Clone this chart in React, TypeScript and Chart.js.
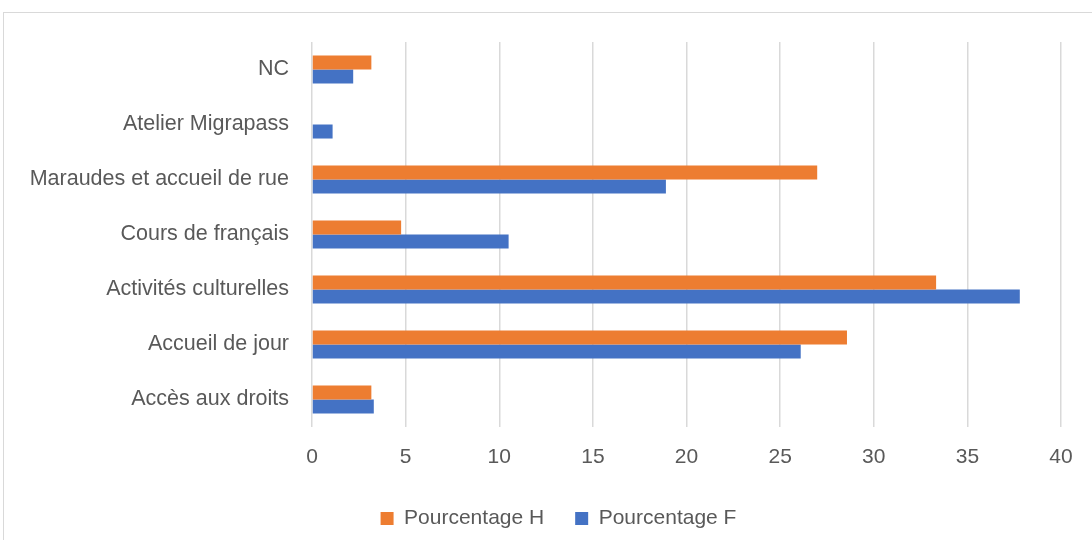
import { useEffect, useRef } from 'react';
import { Chart, registerables } from 'chart.js';

Chart.register(...registerables);

const categories = [
  'NC',
  'Atelier Migrapass',
  'Maraudes et accueil de rue',
  'Cours de français',
  'Activités culturelles',
  'Accueil de jour',
  'Accès aux droits',
];
const valuesH = [3.17, 0, 26.98, 4.76, 33.33, 28.57, 3.17];
const valuesF = [2.2, 1.1, 18.9, 10.5, 37.8, 26.1, 3.3];
const seriesNames = ['Pourcentage H', 'Pourcentage F'];
const seriesColors = ['#ED7D31', '#4472C4'];
const xMin = 0;
const xMax = 40;
const xStep = 5;

const FONT = "'Liberation Sans', Arial, sans-serif";
const TEXT = '#595959';
const GRID = '#d9d9d9';

const legendShift = {
  id: 'legendShift',
  afterLayout(chart: any) {
    if (chart.legend) {
      chart.legend.left += 28;
      chart.legend.right += 28;
    }
  },
};

export default function App() {
  const ref = useRef<HTMLCanvasElement>(null);
  useEffect(() => {
    document.body.style.margin = '0';
    const chart = new Chart(ref.current!, {
      type: 'bar',
      data: {
        labels: categories,
        datasets: [
          {
            label: seriesNames[0],
            data: valuesH,
            backgroundColor: seriesColors[0],
            categoryPercentage: 0.51,
            barPercentage: 1,
          },
          {
            label: seriesNames[1],
            data: valuesF,
            backgroundColor: seriesColors[1],
            categoryPercentage: 0.51,
            barPercentage: 1,
          },
        ],
      },
      plugins: [legendShift],
      options: {
        indexAxis: 'y',
        responsive: false,
        animation: false,
        layout: { padding: { top: 42, left: 0, right: 31, bottom: 1 } },
        plugins: {
          tooltip: { enabled: false },
          legend: {
            position: 'bottom',
            labels: {
              boxWidth: 13,
              boxHeight: 13,
              padding: 31,
              color: TEXT,
              font: { family: FONT, size: 21 },
            },
          },
        },
        scales: {
          x: {
            min: xMin,
            max: xMax,
            ticks: {
              stepSize: xStep,
              color: TEXT,
              font: { family: FONT, size: 21 },
              padding: 18,
            },
            grid: { color: GRID, lineWidth: 1.5, drawTicks: false },
            border: { display: false },
            afterFit: (s: any) => {
              s.height = 50;
            },
          },
          y: {
            ticks: {
              color: TEXT,
              font: { family: FONT, size: 21.5 },
              padding: 23,
            },
            grid: { display: false, drawTicks: false },
            border: { display: false },
            afterFit: (s: any) => {
              s.width = 312;
            },
          },
        },
      },
    });
    return () => chart.destroy();
  }, []);
  return (
    <div style={{ position: 'relative', width: 1092, height: 540, overflow: 'hidden', background: '#fff' }}>
      <div
        style={{
          position: 'absolute',
          left: 3,
          top: 12,
          width: 1200,
          height: 600,
          border: '1px solid #d9d9d9',
        }}
      />
      <canvas ref={ref} width={1092} height={540} style={{ position: 'absolute', left: 0, top: 0 }} />
    </div>
  );
}
